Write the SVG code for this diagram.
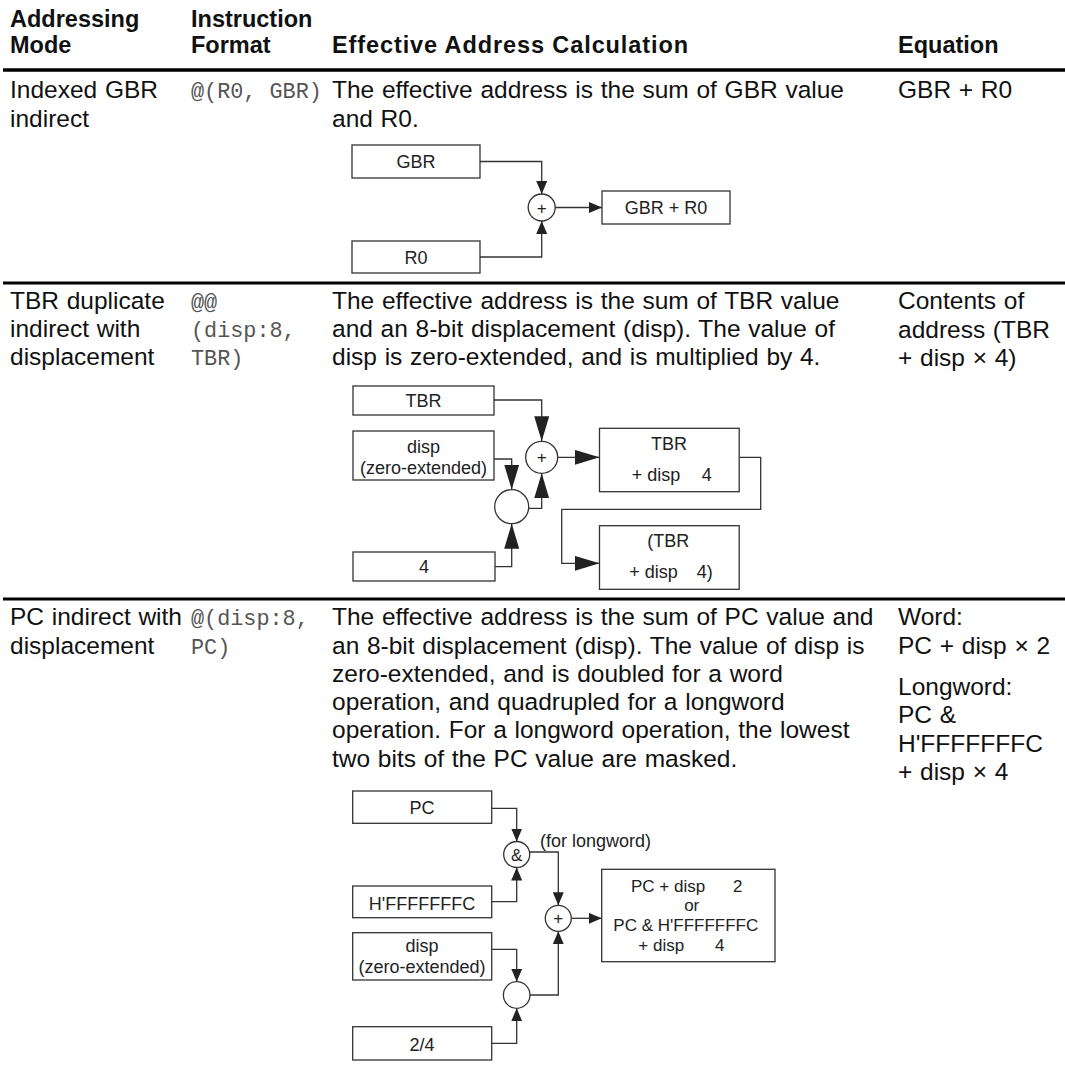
<svg xmlns="http://www.w3.org/2000/svg" width="1065" height="1066" viewBox="0 0 1065 1066">
<style>
  .h{font-family:"Liberation Sans",Arial,sans-serif;font-weight:bold;font-size:23.5px;fill:#111}
  .t{font-family:"Liberation Sans",Arial,sans-serif;font-size:24.5px;fill:#111;word-spacing:0.9px}
  .m{font-family:"Liberation Mono","Courier New",monospace;font-size:21.8px;fill:#555}
  .d{font-family:"Liberation Sans",Arial,sans-serif;font-size:18px;fill:#222}
  .dc{font-family:"Liberation Sans",Arial,sans-serif;font-size:18px;fill:#222;text-anchor:middle}
  .rule{stroke:#000;stroke-width:3;fill:none}
  .box{fill:#fff;stroke:#333;stroke-width:1.3}
  .op{fill:#fff;stroke:#333;stroke-width:1.3}
  .cs{fill:none;stroke:#333;stroke-width:1.3;marker-end:url(#arrS)}
  .cl{fill:none;stroke:#333;stroke-width:1.3;marker-end:url(#arrL)}
</style>
<defs>
  <marker id="arrS" markerUnits="userSpaceOnUse" markerWidth="13" markerHeight="11" refX="13" refY="5.5" orient="auto">
    <path d="M0,0 L13,5.5 L0,11 z" fill="#222"/>
  </marker>
  <marker id="arrL" markerUnits="userSpaceOnUse" markerWidth="25" markerHeight="15" refX="25" refY="7.5" orient="auto">
    <path d="M0,0 L25,7.5 L0,15 z" fill="#222"/>
  </marker>
</defs>
<rect width="1065" height="1066" fill="#fff"/>

<g id="table">
  <text class="h" x="10" y="27">Addressing</text>
  <text class="h" x="10" y="53">Mode</text>
  <text class="h" x="191" y="27">Instruction</text>
  <text class="h" x="191" y="53">Format</text>
  <text class="h" x="332" y="53" textLength="356" lengthAdjust="spacing">Effective Address Calculation</text>
  <text class="h" x="898" y="53">Equation</text>
  <line class="rule" x1="3" y1="70" x2="1065" y2="70" style="stroke-width:3.5"/>
  <line class="rule" x1="3" y1="283" x2="1065" y2="283"/>
  <line class="rule" x1="3" y1="599" x2="1065" y2="599"/>

  <text class="t" x="10" y="98">Indexed GBR</text>
  <text class="t" x="10" y="127">indirect</text>
  <text class="m" x="191" y="98">@(R0, GBR)</text>
  <text class="t" x="332" y="98">The effective address is the sum of GBR value</text>
  <text class="t" x="332" y="127">and R0.</text>
  <text class="t" x="898" y="98">GBR + R0</text>

  <text class="t" x="10" y="309">TBR duplicate</text>
  <text class="t" x="10" y="337">indirect with</text>
  <text class="t" x="10" y="365">displacement</text>
  <text class="m" x="191" y="309">@@</text>
  <text class="m" x="191" y="337">(disp:8,</text>
  <text class="m" x="191" y="365">TBR)</text>
  <text class="t" x="332" y="309">The effective address is the sum of TBR value</text>
  <text class="t" x="332" y="337">and an 8-bit displacement (disp). The value of</text>
  <text class="t" x="332" y="365">disp is zero-extended, and is multiplied by 4.</text>
  <text class="t" x="898" y="309">Contents of</text>
  <text class="t" x="898" y="338">address (TBR</text>
  <text class="t" x="898" y="366">+ disp × 4)</text>

  <text class="t" x="10" y="625">PC indirect with</text>
  <text class="t" x="10" y="654">displacement</text>
  <text class="m" x="191" y="625">@(disp:8,</text>
  <text class="m" x="191" y="654">PC)</text>
  <text class="t" x="332" y="625">The effective address is the sum of PC value and</text>
  <text class="t" x="332" y="654">an 8-bit displacement (disp). The value of disp is</text>
  <text class="t" x="332" y="682">zero-extended, and is doubled for a word</text>
  <text class="t" x="332" y="710">operation, and quadrupled for a longword</text>
  <text class="t" x="332" y="738">operation. For a longword operation, the lowest</text>
  <text class="t" x="332" y="767">two bits of the PC value are masked.</text>
  <text class="t" x="898" y="625">Word:</text>
  <text class="t" x="898" y="654">PC + disp × 2</text>
  <text class="t" x="898" y="695">Longword:</text>
  <text class="t" x="898" y="723">PC &amp;</text>
  <text class="t" x="898" y="752">H'FFFFFFFC</text>
  <text class="t" x="898" y="780">+ disp × 4</text>
</g>

<g id="connectors">
  <path class="cs" d="M480,161.5 H541.7 V194"/>
  <path class="cs" d="M480,257 H541.7 V221"/>
  <path class="cs" d="M555.2,207.5 H602"/>
  <path class="cl" d="M494,400 H541.7 V441.3"/>
  <path class="cl" d="M494,459 H511.7 V489.7"/>
  <path class="cl" d="M495,566.7 H511.7 V523.7"/>
  <path class="cl" d="M528.7,508.3 H541.7 V473.3"/>
  <path class="cl" d="M557.7,457.3 H599.5"/>
  <path class="cl" d="M739.2,457.3 H760.7 V509.3 H561.7 V563.3 H599.5"/>
  <path class="cs" d="M491.7,808.3 H516.7 V841.5"/>
  <path class="cs" d="M491.7,901.7 H516.7 V867.5"/>
  <path class="cs" d="M529.7,852 H558.3 V905.3"/>
  <path class="cs" d="M571.3,918.3 H601.7"/>
  <path class="cs" d="M491.7,949.3 H516.7 V981.7"/>
  <path class="cs" d="M491.7,1043.3 H516.7 V1008.3"/>
  <path class="cs" d="M530,995 H558.3 V931.3"/>
</g>

<g id="gbr">
  <rect class="box" x="352" y="145" width="128" height="33"/>
  <text class="dc" x="416" y="168">GBR</text>
</g>
<g id="r0">
  <rect class="box" x="352" y="241" width="128" height="32"/>
  <text class="dc" x="416" y="263.5">R0</text>
</g>
<g id="add1">
  <circle class="op" cx="541.7" cy="207.5" r="13.5"/>
  <text class="dc" x="541.7" y="213.5" style="font-size:17px">+</text>
</g>
<g id="gbr-r0">
  <rect class="box" x="602" y="191" width="128" height="33"/>
  <text class="dc" x="666" y="213.5">GBR + R0</text>
</g>

<g id="tbr">
  <rect class="box" x="353" y="386" width="141" height="29"/>
  <text class="dc" x="423.5" y="407">TBR</text>
</g>
<g id="disp2">
  <rect class="box" x="353" y="431" width="141" height="49"/>
  <text class="dc" x="423.5" y="452.5">disp</text>
  <text class="dc" x="423.5" y="474">(zero-extended)</text>
</g>
<g id="four">
  <rect class="box" x="353" y="552" width="142" height="29"/>
  <text class="dc" x="424" y="573">4</text>
</g>
<g id="add2">
  <circle class="op" cx="541.7" cy="457.3" r="16"/>
  <text class="dc" x="541.7" y="463.3" style="font-size:17px">+</text>
</g>
<g id="mul2">
  <circle class="op" cx="511.7" cy="506.7" r="17"/>
</g>
<g id="tbr-sum">
  <rect class="box" x="599.5" y="428.3" width="139.7" height="63.4"/>
  <text class="dc" x="669" y="450">TBR</text>
  <text class="d" x="631.7" y="480.7">+ disp</text>
  <text class="d" x="701.7" y="480.7">4</text>
</g>
<g id="tbr-ind">
  <rect class="box" x="599.5" y="525.7" width="139.7" height="63.6"/>
  <text class="dc" x="668.3" y="546.7">(TBR</text>
  <text class="d" x="629.3" y="578.3">+ disp</text>
  <text class="d" x="696.7" y="578.3">4)</text>
</g>

<g id="pc">
  <rect class="box" x="352.7" y="791" width="139" height="32.3"/>
  <text class="dc" x="422" y="814">PC</text>
</g>
<g id="and3">
  <circle class="op" cx="516.7" cy="854.5" r="13"/>
  <text class="dc" x="516.7" y="861" style="font-size:17px">&amp;</text>
</g>
<text class="d" x="540" y="846.7">(for longword)</text>
<g id="mask">
  <rect class="box" x="352.7" y="886" width="139" height="31.7"/>
  <text class="dc" x="422" y="909.5">H'FFFFFFFC</text>
</g>
<g id="add3">
  <circle class="op" cx="558.3" cy="918.3" r="13"/>
  <text class="dc" x="558.3" y="924.3" style="font-size:17px">+</text>
</g>
<g id="pc-result">
  <rect class="box" x="601.7" y="869.3" width="173.3" height="92.4"/>
  <text class="d" x="631" y="891.7" style="font-size:17px">PC + disp</text>
  <text class="d" x="733" y="891.7" style="font-size:17px">2</text>
  <text class="dc" x="691.7" y="910.7" style="font-size:17px">or</text>
  <text class="dc" x="685.8" y="931" style="font-size:17px">PC &amp; H'FFFFFFFC</text>
  <text class="d" x="638.3" y="951" style="font-size:17px">+ disp</text>
  <text class="d" x="715" y="951" style="font-size:17px">4</text>
</g>
<g id="disp3">
  <rect class="box" x="352.7" y="932.7" width="139" height="47.3"/>
  <text class="dc" x="422" y="951.7">disp</text>
  <text class="dc" x="422" y="973.3">(zero-extended)</text>
</g>
<g id="mul3">
  <circle class="op" cx="516.7" cy="995" r="13.3"/>
</g>
<g id="scale">
  <rect class="box" x="352.7" y="1026.7" width="139" height="33.3"/>
  <text class="dc" x="422" y="1050.5">2/4</text>
</g>
</svg>
